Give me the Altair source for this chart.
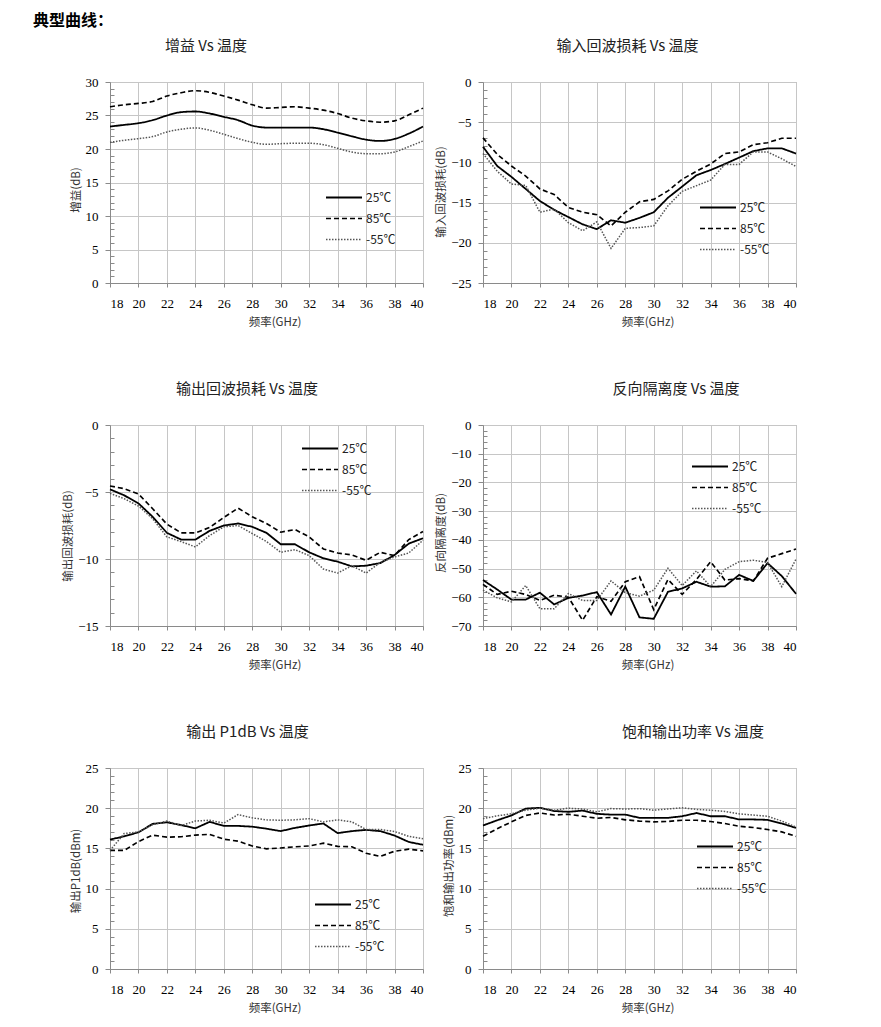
import altair as alt
import pandas as pd

SANS = "Noto Sans CJK SC"
SERIF = "Liberation Serif, Times New Roman, serif"
W, H = 313, 201

freq = list(range(18, 41))
temps = ["25℃", "85℃", "-55℃"]

gain_25 = [23.35, 23.6, 23.85, 24.3, 25.0, 25.5, 25.6, 25.3, 24.8, 24.3, 23.5, 23.2, 23.2, 23.2, 23.2, 22.95, 22.45, 21.9, 21.4, 21.2, 21.5, 22.3, 23.35]
gain_85 = [26.3, 26.6, 26.8, 27.1, 27.9, 28.4, 28.7, 28.45, 27.9, 27.3, 26.6, 26.1, 26.2, 26.3, 26.1, 25.8, 25.3, 24.6, 24.2, 24.0, 24.2, 25.1, 26.1]
gain_m55 = [21.0, 21.3, 21.55, 21.85, 22.55, 22.95, 23.15, 22.8, 22.2, 21.55, 21.0, 20.7, 20.8, 20.85, 20.85, 20.65, 20.1, 19.55, 19.3, 19.3, 19.55, 20.35, 21.2]

irl_25 = [-8.06, -10.45, -11.8, -13.3, -14.8, -15.9, -16.8, -17.7, -18.3, -17.2, -17.5, -16.9, -16.2, -14.4, -13.0, -11.6, -10.95, -10.2, -9.4, -8.6, -8.25, -8.25, -8.9]
irl_85 = [-6.95, -9.0, -10.45, -11.7, -13.3, -14.0, -15.6, -16.2, -16.5, -17.9, -16.2, -14.9, -14.6, -13.55, -12.1, -11.1, -10.2, -8.9, -8.7, -7.8, -7.55, -7.0, -7.0]
irl_m55 = [-8.9, -11.1, -12.7, -12.85, -16.2, -15.8, -17.5, -18.5, -17.4, -20.7, -18.2, -18.1, -17.9, -15.4, -13.6, -12.9, -12.2, -10.25, -10.25, -8.7, -8.7, -9.55, -10.5]

orl_25 = [-4.8, -5.25, -5.85, -6.85, -8.05, -8.55, -8.55, -7.9, -7.5, -7.35, -7.6, -8.05, -8.9, -8.9, -9.5, -9.95, -10.2, -10.55, -10.5, -10.3, -9.7, -8.85, -8.45]
orl_85 = [-4.55, -4.75, -5.15, -6.25, -7.4, -8.05, -8.05, -7.65, -6.9, -6.2, -6.85, -7.35, -8.0, -7.8, -8.35, -9.25, -9.55, -9.7, -10.1, -9.5, -9.75, -8.55, -7.95]
orl_m55 = [-5.1, -5.5, -6.05, -7.0, -8.35, -8.7, -9.1, -8.25, -7.6, -7.5, -8.1, -8.7, -9.5, -9.3, -9.75, -10.75, -11.05, -10.5, -11.05, -10.25, -9.85, -9.55, -8.6]

iso_25 = [-54.0, -57.3, -60.8, -60.8, -58.4, -62.5, -60.2, -59.4, -58.2, -66.0, -56.3, -67.0, -67.5, -58.1, -56.9, -54.6, -56.3, -56.2, -52.2, -54.3, -48.1, -52.6, -58.8]
iso_85 = [-55.5, -59.0, -57.9, -59.0, -61.1, -59.3, -59.95, -68.0, -59.8, -61.4, -54.6, -52.8, -64.3, -53.8, -59.0, -53.8, -47.6, -54.0, -53.5, -54.3, -46.4, -44.8, -43.2]
iso_m55 = [-57.5, -60.2, -61.6, -55.9, -64.0, -64.0, -58.7, -61.1, -61.1, -54.3, -58.4, -59.6, -57.5, -49.9, -55.9, -50.8, -56.3, -50.3, -47.6, -47.1, -47.9, -56.3, -46.7]

p1_25 = [16.1, 16.5, 17.0, 18.05, 18.25, 17.9, 17.5, 18.3, 17.8, 17.8, 17.7, 17.45, 17.15, 17.55, 17.85, 18.1, 16.9, 17.15, 17.3, 17.15, 16.6, 15.8, 15.45]
p1_85 = [14.75, 14.75, 15.85, 16.65, 16.4, 16.45, 16.65, 16.75, 16.15, 15.9, 15.3, 14.95, 15.05, 15.2, 15.3, 15.65, 15.25, 15.2, 14.4, 14.0, 14.65, 14.9, 14.7]
p1_m55 = [14.75, 16.85, 17.05, 17.95, 18.4, 17.85, 18.4, 18.5, 18.15, 19.2, 18.8, 18.55, 18.5, 18.55, 18.7, 18.3, 18.55, 18.3, 17.35, 17.35, 17.1, 16.5, 16.2]

psat_25 = [17.85, 18.5, 19.1, 19.95, 20.05, 19.65, 19.55, 19.7, 19.3, 19.2, 19.2, 18.8, 18.8, 18.8, 19.0, 19.4, 19.0, 19.0, 18.6, 18.6, 18.55, 18.1, 17.55]
psat_85 = [16.5, 17.45, 18.3, 19.1, 19.4, 19.15, 19.25, 19.0, 18.75, 18.85, 18.55, 18.4, 18.3, 18.35, 18.5, 18.5, 18.35, 18.1, 17.75, 17.6, 17.35, 17.05, 16.5]
psat_m55 = [18.7, 19.05, 19.3, 19.75, 20.0, 19.75, 20.0, 19.9, 19.55, 19.95, 19.9, 19.95, 19.75, 19.9, 20.05, 19.85, 19.75, 19.6, 19.3, 19.15, 19.0, 18.4, 17.65]

x_ticks = list(range(18, 41, 2))


def frange(a, b, step):
    out = []
    v = a
    while v <= b + 1e-9:
        out.append(round(v, 6))
        v += step
    return out


def panel(title, tdx, ytitle, ydom, ystep, minor_step, series, lx, ly, interp, ytdy):
    rows = []
    for name, vals in zip(temps, series):
        for f, v in zip(freq, vals):
            rows.append({"f": f, "v": v, "s": name})
    df = pd.DataFrame(rows)
    major = frange(ydom[0], ydom[1], ystep)
    minor = [m for m in frange(ydom[0], ydom[1], minor_step) if all(abs(m - M) > 1e-6 for M in major)]
    leg = dict(title=None, orient="none", legendX=lx, legendY=ly, symbolType="stroke",
               symbolSize=1296, labelFont=SANS, labelFontSize=12, labelColor="#222",
               clipHeight=19, rowPadding=2, labelOffset=3, padding=0)
    xs = alt.Scale(domain=[18, 40], nice=False, zero=False)
    ys = alt.Scale(domain=ydom, nice=False, zero=False)
    xaxis = alt.Axis(values=x_ticks, title="频率(GHz)", titleX=W / 2 + 8,
                     tickSize=4, labelPadding=10, titlePadding=6,
                     labelFont=SERIF, labelFontSize=13, labelColor="#000000")
    lines = alt.Chart(df).mark_line(interpolate=interp).encode(
        x=alt.X("f:Q", scale=xs, axis=xaxis),
        y=alt.Y("v:Q", scale=ys, axis=alt.Axis(values=major, title=ytitle, titleY=H / 2 + ytdy,
                                               tickSize=5, labelPadding=7, titlePadding=4,
                                               labelFont=SERIF, labelFontSize=13, labelColor="#000000")),
        color=alt.Color("s:N", scale=alt.Scale(domain=temps, range=["#000000", "#000000", "#555555"]),
                        legend=alt.Legend(**leg)),
        strokeDash=alt.StrokeDash("s:N", scale=alt.Scale(domain=temps, range=[[1, 0], [5, 3], [1.5, 1.5]]),
                                  legend=alt.Legend(**leg)),
        strokeWidth=alt.StrokeWidth("s:N", scale=alt.Scale(domain=temps, range=[1.8, 1.5, 1.1]),
                                    legend=alt.Legend(**leg)),
    )
    minor_layer = alt.Chart(df).mark_point(opacity=0).encode(
        x=alt.X("f:Q", scale=xs, axis=xaxis),
        y=alt.Y("v:Q", scale=ys, axis=alt.Axis(orient="left", values=minor, labels=False, domain=False,
                                               grid=False, tickSize=4, offset=-4, title=None)),
    )
    return alt.layer(lines, minor_layer).resolve_axis(y="independent").properties(
        width=W, height=H,
        title=alt.TitleParams(title, font=SANS, fontSize=15, fontWeight="normal", color="#222222",
                              anchor="middle", dx=tdx, offset=22),
    )


p1 = panel("增益 Vs  温度", -60.5, "增益(dB)", [0, 30], 5, 1, [gain_25, gain_85, gain_m55], 215, 106, "monotone", 7)
p2 = panel("输入回波损耗 Vs 温度", -12, "输入回波损耗(dB)", [-25, 0], 5, 1, [irl_25, irl_85, irl_m55], 216, 116, "linear", 9)
p3 = panel("输出回波损耗 Vs 温度", -19.5, "输出回波损耗(dB)", [-15, 0], 5, 1, [orl_25, orl_85, orl_m55], 191, 14, "linear", 10)
p4 = panel("反向隔离度 Vs 温度", 36.5, "反向隔离度(dB)", [-70, 0], 10, 2, [iso_25, iso_85, iso_m55], 208, 32, "linear", 7)
p5 = panel("输出 P1dB Vs  温度", -19, "输出P1dB(dBm)", [0, 25], 5, 1, [p1_25, p1_85, p1_m55], 204, 127, "linear", 2)
p6 = panel("饱和输出功率  Vs 温度", 53.5, "饱和输出功率(dBm)", [0, 25], 5, 1, [psat_25, psat_85, psat_m55], 213, 69, "linear", -3)

chart = alt.concat(
    p1, p2, p3, p4, p5, p6,
    columns=2,
    spacing={"row": 142, "column": 60},
    bounds="flush",
    title=alt.TitleParams("典型曲线：", anchor="start", frame="group", dx=-77, fontSize=16,
                          fontWeight="bold", font=SANS, color="#000000", offset=10),
    padding={"left": 25, "top": 4, "right": 5, "bottom": 5},
).resolve_legend(
    color="independent", strokeDash="independent", strokeWidth="independent"
).resolve_scale(
    color="independent", strokeDash="independent", strokeWidth="independent"
).configure_view(
    stroke="#a8a8a8", strokeWidth=1
).configure_axis(
    domainColor="#8a8a8a", tickColor="#8a8a8a", gridColor="#c6c6c6", gridWidth=1,
    labelFont=SERIF, labelFontSize=13, labelColor="#000000",
    titleFont=SANS, titleFontSize=11.5, titleFontWeight="normal", titleColor="#333333",
)

chart.save("out.html", embed_options={"renderer": "svg", "actions": False})
